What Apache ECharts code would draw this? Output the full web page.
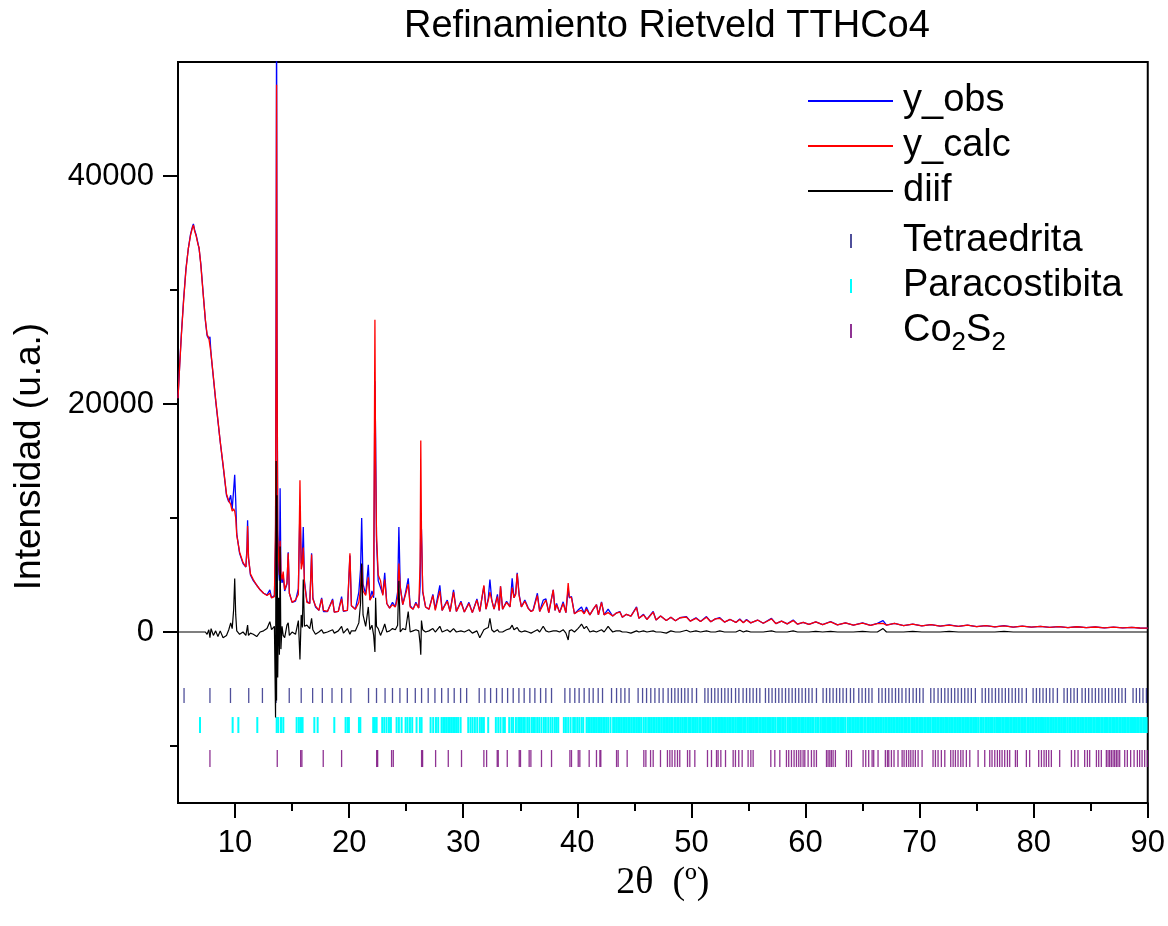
<!DOCTYPE html>
<html>
<head>
<meta charset="utf-8">
<script src="https://cdn.jsdelivr.net/npm/echarts/dist/echarts.min.js"></script>
<style>html,body{margin:0;padding:0;background:#fff;}#chart{width:1168px;height:926px;}</style>
</head>
<body>
<div id="chart"></div>
<script>
// ---------------- DATA ----------------
const twoTheta = [
5.00,5.15,5.30,5.50,5.70,5.90,6.10,6.25,6.35,6.45,
6.60,6.75,6.85,7.00,7.20,7.40,7.55,7.70,7.80,7.90,
8.10,8.30,8.50,8.70,8.95,9.25,9.45,9.62,9.75,9.88,
9.97,10.06,10.15,10.40,10.70,10.95,11.05,11.10,11.18,11.35,
11.60,11.90,12.20,12.50,12.80,13.05,13.20,13.45,13.55,13.60,
13.64,13.68,13.74,13.82,13.89,13.95,14.02,14.12,14.22,14.35,
14.55,14.66,14.76,15.00,15.30,15.55,15.69,15.80,15.90,15.98,
16.08,16.30,16.55,16.71,16.82,17.05,17.35,17.59,17.75,18.10,
18.55,18.70,19.05,19.34,19.50,19.85,20.07,20.20,20.55,20.85,
21.00,21.10,21.22,21.45,21.68,21.82,22.00,22.15,22.26,22.32,
22.40,22.55,22.75,22.95,23.12,23.30,23.55,23.80,24.05,24.25,
24.36,24.48,24.70,24.95,25.18,25.35,25.60,25.85,26.10,26.22,
26.28,26.34,26.45,26.70,27.00,27.34,27.55,27.95,28.15,28.60,
28.85,29.15,29.40,29.80,30.10,30.50,30.80,31.20,31.45,31.81,
32.00,32.20,32.34,32.50,32.70,33.00,33.15,33.27,33.45,33.80,
34.10,34.29,34.45,34.60,34.73,34.90,35.10,35.40,35.70,35.95,
36.13,36.50,36.70,37.01,37.25,37.50,37.89,38.05,38.18,38.45,
38.76,39.00,39.20,39.30,39.49,39.75,40.05,40.22,40.37,40.60,
40.80,41.10,41.40,41.68,41.85,42.12,42.35,42.70,42.85,43.10,
43.40,43.73,43.95,44.30,44.70,45.19,45.40,45.80,46.10,46.65,
46.90,47.30,47.80,48.20,48.60,49.00,49.57,49.90,50.40,50.80,
51.32,51.70,52.10,52.49,52.90,53.40,53.90,54.24,54.55,54.83,
55.20,55.80,56.30,57.02,57.40,57.90,58.40,58.92,59.30,59.80,
60.30,60.90,61.50,62.20,62.80,63.50,64.20,65.00,65.70,66.30,
66.80,67.10,67.80,68.60,69.40,70.20,71.00,71.80,72.60,73.40,
74.20,75.00,75.80,76.60,77.40,78.20,79.00,79.80,80.60,81.40,
82.20,83.00,83.80,84.60,85.40,86.20,87.00,87.80,88.60,89.30,
90.00];

const yObs = [
20500,23500,26200,29300,31900,33600,34900,35500,35800,35300,
34800,34100,33600,32300,29800,27300,26000,25700,25900,24300,
22300,20300,18500,16700,14600,12000,11400,12000,10800,12500,
13800,11500,8600,6900,6000,5700,7500,9800,6500,5000,
4500,4100,3700,3400,3250,3700,3000,3200,8000,30000,
56000,26000,9000,5500,4500,12600,5000,4300,4900,3600,
4200,7000,3400,2600,2700,3800,11000,6000,6500,9200,
4500,2700,2500,6900,3000,2200,1900,3000,1800,1800,
2900,1750,1800,3100,1800,1900,6700,2300,2000,3500,
5500,10000,4200,3300,5900,2800,3600,3000,22000,17000,
8000,4500,3900,3300,5200,2500,2100,2600,2200,3500,
9200,4000,2400,3500,4700,2300,2000,2600,2100,4000,
9500,9000,3500,2200,2000,3300,2000,4100,1900,2800,
1800,3700,1800,2700,1750,2600,1700,2900,1800,4000,
2000,3000,4600,2800,2000,3300,1900,4000,2000,2700,
2200,4700,3000,3400,5200,3300,2200,2800,2100,1800,
1950,3400,1800,2800,2900,1700,3700,1900,2500,1700,
2650,1700,3800,3000,3100,1600,1900,1950,2200,1650,
2200,1500,2000,2400,1500,2650,1500,2000,1950,1400,
1650,1800,1300,1550,1400,2200,1200,1550,1100,1800,
1050,1400,1000,1300,980,1250,1350,950,1250,920,
1350,900,1150,1250,870,1100,840,1150,820,1100,
800,1050,770,1200,740,950,710,1050,690,850,
660,880,650,920,630,800,610,800,590,760,
1000,600,750,560,700,530,650,510,620,490,
600,470,560,450,560,430,520,420,500,400,
480,390,460,380,440,370,430,360,410,350,
340];

const yCalc = [
20500,23400,26100,29200,31800,33600,34800,35400,35700,35200,
34700,34000,33700,32200,29700,27400,26100,25800,25900,24400,
22400,20400,18600,16700,14700,12100,11500,11200,10600,10800,
10600,10000,8500,7000,6100,5700,7200,9300,6500,5100,
4600,4100,3700,3400,3200,3400,3000,3100,9500,25000,
48000,24000,8500,6500,5000,8000,5200,4600,5300,3700,
4300,6900,3400,2600,2800,3300,13300,5500,6000,7400,
4300,2600,2500,6800,2900,2300,1900,2900,1900,1800,
2800,1750,1800,2900,1850,1900,6900,2300,2000,2600,
3800,5900,3600,3200,4800,2800,3100,3300,27400,15000,
8500,5000,4500,3200,4600,2500,2100,2400,2200,3000,
6000,3900,2400,3300,4200,2200,2000,2500,2100,6000,
16800,9000,3600,2200,2000,3200,1900,3600,1900,2700,
1800,3500,1800,2600,1750,2500,1700,2800,1800,4100,
2000,2800,3500,2800,2000,3100,1900,4000,2000,2600,
2200,3900,3000,3300,5100,3200,2200,2700,2050,1800,
1900,3200,1800,2400,2800,1700,3700,1900,2400,1700,
2500,1700,4300,3100,3000,1600,1800,1850,1900,1600,
2000,1500,2000,2400,1500,2600,1500,1700,1850,1400,
1650,1750,1300,1550,1400,2150,1200,1500,1100,1750,
1050,1400,1000,1300,980,1250,1300,950,1200,920,
1300,900,1150,1200,870,1100,840,1100,820,1050,
800,1050,770,1150,740,950,710,1000,690,850,
660,880,650,880,630,800,610,780,590,740,
750,600,750,560,700,530,650,510,600,490,
600,470,560,450,540,430,520,420,500,400,
480,390,460,380,440,370,430,360,410,350,
340];

const yDiff = [
0,0,0,0,0,0,0,0,0,0,
0,0,0,0,0,0,-200,200,-500,300,
-300,100,-400,100,-500,-300,200,800,300,2000,
4700,1500,100,-200,0,-300,300,600,-300,-100,
-200,-400,0,100,300,900,200,500,-7500,15000,
-6000,12000,-4000,3000,-2000,7500,-1500,500,-300,-500,
600,800,-300,0,-200,1000,-2400,1500,400,4600,
500,600,300,1200,200,-200,0,200,-100,0,
200,-100,100,500,-100,300,-200,100,100,800,
2500,6000,1500,500,2200,200,600,-300,-1750,3000,
500,300,-300,200,700,0,100,300,200,600,
4500,0,300,200,1800,0,100,200,100,-1000,
-2000,1000,200,0,100,300,0,500,0,200,
0,300,0,100,0,200,-100,100,-500,200,
300,400,1200,200,0,200,0,100,0,200,
300,600,200,300,400,100,0,100,0,-100,
0,200,0,500,100,0,100,0,100,0,
200,-100,-700,100,200,0,300,500,700,300,
500,0,100,0,0,200,0,500,300,0,
100,100,0,0,-100,100,0,100,0,100,
0,0,-100,100,0,0,150,0,100,0,
100,0,0,100,0,0,0,150,0,100,
0,0,0,100,0,0,0,100,0,0,
0,50,0,50,0,0,0,50,0,0,
300,0,0,0,50,0,0,0,50,0,
0,0,0,0,50,0,0,0,0,0,
0,0,0,0,0,0,0,0,0,0,
0];

// Bragg reflection positions (2θ)
const tetraedrita = [
5.53,7.80,9.60,11.20,12.40,13.60,14.75,15.80,16.80,17.65,18.50,19.35,20.15,21.70,22.40,23.15,23.80,24.45,25.10,25.80,
26.35,26.93,27.52,28.11,28.68,29.21,29.77,30.30,31.40,31.90,32.40,32.92,33.42,33.89,34.38,34.88,35.34,35.84,36.28,36.78,
37.24,37.74,38.91,39.35,39.78,40.16,40.60,41.04,41.39,41.83,42.21,43.00,43.44,43.82,44.17,44.54,45.33,45.72,46.07,46.44,
46.80,47.17,47.52,47.96,48.26,48.55,48.84,49.13,49.42,49.71,50.06,50.45,51.18,51.46,51.76,52.05,52.34,52.64,52.93,53.22,
53.51,53.87,54.16,54.53,54.83,55.12,55.41,55.71,56.00,56.49,56.78,57.07,57.37,57.66,57.95,58.25,58.54,58.83,59.12,59.41,
59.70,60.00,60.29,60.58,60.96,61.54,61.84,62.13,62.42,62.72,63.00,63.29,63.59,63.94,64.23,64.67,64.96,65.26,65.55,65.83,
66.42,66.71,67.01,67.30,67.59,67.89,68.17,68.46,68.80,69.10,69.43,69.72,70.01,70.31,70.98,71.27,71.62,71.91,72.21,72.50,
72.79,73.08,73.37,73.67,73.96,74.25,74.54,74.89,75.48,75.77,76.06,76.35,76.65,76.94,77.23,77.52,77.81,78.11,78.40,78.69,
78.98,79.36,79.95,80.24,80.53,80.82,81.11,81.41,81.70,82.08,82.66,82.95,83.25,83.54,83.83,84.24,84.53,84.82,85.12,85.41,
85.70,85.99,86.28,86.57,86.87,87.16,87.45,87.74,88.04,88.71,89.00,89.29,89.58,89.88];

const paracostibita = [
6.93,9.79,10.29,11.95,13.65,13.79,14.03,14.23,15.40,15.60,15.78,15.92,16.95,17.24,18.70,19.69,19.87,19.98,20.86,20.98,
22.11,22.26,22.41,22.90,23.08,23.28,23.49,23.66,24.16,24.36,24.60,24.95,25.12,25.33,25.53,25.91,26.20,26.35,
27.14,27.37,27.61,27.81,28.10,28.25,28.39,28.54,28.69,28.83,28.98,29.12,29.27,29.42,29.56,29.77,30.44,30.64,30.82,31.02,
31.23,31.46,31.64,31.81,32.19,32.86,33.07,33.27,33.51,33.65,34.03,34.24,34.38,34.62,34.82,34.97,35.11,35.26,35.40,35.61,
35.78,35.99,36.13,36.28,36.48,36.66,36.86,37.07,37.24,37.45,37.65,37.83,38.03,38.18,38.33,38.82,39.00,39.20,39.41,39.64,
39.79,39.99,40.17,40.37,40.52,40.81,40.95,41.10,41.25,41.39,41.54,41.68,41.83,41.98,42.12,42.27,42.41,42.56,42.71,42.91,
43.14,43.29,43.44,43.58,43.73,43.87,44.02,44.17,44.31,44.46,44.60,44.75,44.90,45.04,45.19,45.33,45.48,45.63,45.83,46.01,
46.21,46.36,46.50,46.65,46.79,46.94,47.09,47.23,47.38,47.53,47.67,
47.80,47.94,48.08,48.22,48.33,48.50,48.62,48.76,48.90,49.06,49.20,49.36,49.48,49.58,49.74,49.86,49.94,50.09,50.22,50.36,
50.50,50.68,50.80,50.96,51.10,51.24,51.38,51.52,51.66,51.84,51.92,52.08,52.22,52.36,52.50,52.62,52.70,52.86,53.00,53.14,
53.30,53.44,53.58,53.72,53.88,54.02,54.16,54.26,54.42,54.56,54.70,54.76,54.92,55.06,55.14,55.30,55.42,55.58,55.70,55.78,
55.94,56.08,56.22,56.36,56.52,56.66,56.80,56.94,57.08,57.22,57.36,57.54,57.68,57.82,57.96,58.10,58.24,58.42,58.56,58.70,
58.84,58.92,59.08,59.22,59.36,59.50,59.64,59.78,59.86,60.02,60.16,60.30,60.44,60.58,60.72,60.90,61.04,61.16,61.34,61.48,
61.62,61.76,61.90,62.06,62.20,62.34,62.50,62.64,62.78,62.92,63.06,63.20,63.34,63.48,63.68,63.82,63.96,64.10,64.24,64.38,
64.52,64.66,64.80,64.94,65.02,65.18,65.26,65.42,65.56,65.70,65.84,65.98,66.12,66.26,66.40,66.54,66.68,66.82,66.98,67.12,
67.26,67.40,67.54,67.68,67.82,67.96,68.10,68.24,68.38,68.52,68.66,68.72,68.88,69.02,69.12,69.28,69.42,69.56,69.70,69.84,
69.98,70.12,70.24,70.40,70.54,70.68,70.82,70.96,71.12,71.26,71.40,71.54,71.68,71.82,71.96,72.10,72.24,72.32,72.48,72.62,
72.76,72.90,73.04,73.18,73.32,73.46,73.60,73.74,73.88,74.02,74.16,74.30,74.44,74.58,74.72,74.86,75.00,75.14,75.32,75.46,
75.60,75.76,75.90,76.04,76.18,76.32,76.42,76.58,76.72,76.80,76.96,77.10,77.24,77.38,77.52,77.66,77.80,77.94,78.08,78.22,
78.36,78.50,78.64,78.78,78.92,79.06,79.20,79.28,79.44,79.58,79.72,79.86,80.00,80.14,80.28,80.42,80.56,80.70,80.74,80.90,
81.04,81.18,81.32,81.46,81.60,81.74,81.88,82.02,82.16,82.30,82.44,82.58,82.72,82.82,82.98,83.12,83.26,83.40,83.54,83.68,
83.82,83.96,84.10,84.24,84.38,84.52,84.66,84.80,84.94,85.08,85.22,85.36,85.50,85.64,85.78,85.92,86.06,86.20,86.34,86.48,
86.62,86.76,86.90,87.04,87.22,87.36,87.50,87.64,87.78,87.92,88.06,88.20,88.34,88.48,88.62,88.76,88.88,89.06,89.20,89.34,
89.48,89.62,89.76,89.90];

const co2s2 = [
7.80,13.70,15.75,15.86,17.73,19.34,22.41,22.50,23.72,23.87,26.35,26.44,27.58,28.69,29.85,31.81,32.05,32.98,33.07,33.86,
34.91,35.02,35.78,35.93,36.86,37.74,39.35,39.49,40.08,40.22,41.04,41.68,41.98,42.06,43.44,43.58,44.37,45.83,46.01,46.42,
46.65,47.29,47.90,48.11,48.31,48.55,48.78,48.98,49.66,49.86,50.30,51.41,51.76,52.20,52.34,52.58,52.99,53.66,53.86,54.15,
54.45,54.97,55.21,55.41,56.96,57.31,57.75,58.33,58.53,58.77,59.00,59.21,59.41,59.59,59.79,59.94,60.23,60.52,60.75,60.96,
61.84,61.98,62.13,62.27,62.42,62.62,63.59,63.79,64.03,65.05,65.28,65.54,65.84,65.98,66.36,67.00,67.18,67.30,67.53,67.76,
68.11,68.47,68.64,68.85,69.05,69.23,69.43,69.63,69.87,70.22,71.18,71.39,71.62,71.91,72.21,72.73,72.94,73.14,73.37,73.61,
73.81,74.10,74.40,75.13,75.71,76.15,76.35,76.59,76.82,77.02,77.23,77.46,77.70,77.90,78.40,78.57,79.36,79.65,80.44,80.68,
80.91,81.11,81.32,81.55,82.28,83.31,83.60,83.89,84.47,84.71,84.91,85.50,85.70,85.93,86.37,86.52,86.66,86.81,86.96,87.10,
87.25,87.39,87.54,87.98,88.21,88.50,88.80,89.09,89.29,89.50,89.73,89.97];

const xTickValues = [10, 20, 30, 40, 50, 60, 70, 80, 90];
const xMinorTickValues = [15, 25, 35, 45, 55, 65, 75, 85];
const yTickValues = [0, 20000, 40000];
const yMinorTickValues = [-10000, 10000, 30000];

// ---------------- CHART ----------------
const SANS = "'Liberation Sans', Arial, sans-serif";
const pairs = ys => twoTheta.map((x, i) => [x, ys[i]]);

function tickRow(name, values, rowMid, halfH, color, width) {
  return {
    name: name, type: 'custom', z: 1, silent: true, animation: false,
    itemStyle: { color: color },
    data: values.map(v => [v, rowMid]),
    encode: { x: 0, y: 1 },
    renderItem: function (params, api) {
      const x = api.value(0), y = api.value(1);
      const a = api.coord([x, y + halfH]);
      const b = api.coord([x, y - halfH]);
      return { type: 'line', shape: { x1: a[0], y1: a[1], x2: b[0], y2: b[1] },
               style: { stroke: color, lineWidth: width } };
    }
  };
}

const chart = echarts.init(document.getElementById('chart'), null, { renderer: 'canvas' });
const tickStyle = { color: '#000', width: 2 };

chart.setOption({
  animation: false,
  backgroundColor: '#fff',
  title: {
    text: 'Refinamiento Rietveld TTHCo4', left: 404, top: 8, padding: 0,
    textStyle: { fontFamily: SANS, fontSize: 38, fontWeight: 'normal', color: '#000' }
  },
  grid: { left: 178, right: 20, top: 62, bottom: 123, show: true, borderColor: '#000', borderWidth: 2, backgroundColor: 'transparent' },
  legend: [
    {
      data: ['y_obs', 'y_calc', 'diif'], orient: 'vertical', left: 808, top: 76, padding: 0,
      itemWidth: 85, itemHeight: 2, itemGap: -5, icon: 'rect', selectedMode: false,
      textStyle: { fontFamily: SANS, fontSize: 38, lineHeight: 50, color: '#000', padding: [0, 0, 0, 5] }
    },
    {
      data: ['Tetraedrita', 'Paracostibita', 'Co2S2'], orient: 'vertical', left: 850, top: 216, padding: 0,
      itemWidth: 2, itemHeight: 14, itemGap: -5, icon: 'rect', selectedMode: false,
      formatter: function (n) { return n === 'Co2S2' ? '{n|Co}{s|2}{n|S}{s|2}' : n; },
      textStyle: {
        fontFamily: SANS, fontSize: 38, lineHeight: 50, color: '#000', padding: [0, 0, 0, 46],
        rich: {
          n: { fontFamily: SANS, fontSize: 38, lineHeight: 50, color: '#000' },
          s: { fontFamily: SANS, fontSize: 26, lineHeight: 18, verticalAlign: 'bottom', color: '#000' }
        }
      }
    }
  ],
  xAxis: [
    {
      type: 'value', min: 5, max: 90, position: 'bottom',
      name: '2θ  (º)', nameLocation: 'middle', nameGap: 58,
      nameTextStyle: { fontFamily: "'Liberation Serif', 'Times New Roman', serif", fontSize: 38, color: '#000' },
      axisLine: { show: true, onZero: false, lineStyle: tickStyle },
      axisTick: { show: true, inside: false, length: 15, customValues: xTickValues, lineStyle: tickStyle },
      axisLabel: { show: true, customValues: xTickValues, margin: 25, fontFamily: SANS, fontSize: 31, color: '#000',
                   formatter: v => String(v) },
      splitLine: { show: false }
    },
    {
      type: 'value', min: 5, max: 90, position: 'bottom',
      axisLine: { show: false, onZero: false },
      axisTick: { show: true, inside: false, length: 8, customValues: xMinorTickValues, lineStyle: tickStyle },
      axisLabel: { show: false }, splitLine: { show: false }
    }
  ],
  yAxis: [
    {
      type: 'value', min: -15000, max: 50000, position: 'left',
      name: 'Intensidad (u.a.)', nameLocation: 'middle', nameGap: 130,
      nameTextStyle: { fontFamily: SANS, fontSize: 37, color: '#000', padding: [0, 48, 0, 0] },
      axisLine: { show: true, onZero: false, lineStyle: tickStyle },
      axisTick: { show: true, inside: false, length: 15, customValues: yTickValues, lineStyle: tickStyle },
      axisLabel: { show: true, customValues: yTickValues, margin: 24, fontFamily: SANS, fontSize: 31, color: '#000',
                   formatter: v => String(v) },
      splitLine: { show: false }
    },
    {
      type: 'value', min: -15000, max: 50000, position: 'left',
      axisLine: { show: false, onZero: false },
      axisTick: { show: true, inside: false, length: 8, customValues: yMinorTickValues, lineStyle: tickStyle },
      axisLabel: { show: false }, splitLine: { show: false }
    }
  ],
  series: [
    tickRow('Tetraedrita', tetraedrita, -5570, 660, 'rgba(20,20,120,0.75)', 1.3),
    tickRow('Paracostibita', paracostibita, -8160, 700, '#00ffff', 2),
    tickRow('Co2S2', co2s2, -11100, 745, 'rgba(115,0,120,0.8)', 1.3),
    { name: 'y_obs', type: 'line', z: 2, color: '#0000ff', data: pairs(yObs), showSymbol: false, symbol: 'none',
      lineStyle: { width: 1.3, color: '#0000ff' }, clip: true, silent: true },
    { name: 'y_calc', type: 'line', z: 3, color: '#ff0000', data: pairs(yCalc), showSymbol: false, symbol: 'none',
      lineStyle: { width: 1.3, color: '#ff0000' }, clip: true, silent: true },
    { name: 'diif', type: 'line', z: 4, color: '#000000', data: pairs(yDiff), showSymbol: false, symbol: 'none',
      lineStyle: { width: 1.2, color: '#000000' }, clip: true, silent: true }
  ]
});
</script>
</body>
</html>
